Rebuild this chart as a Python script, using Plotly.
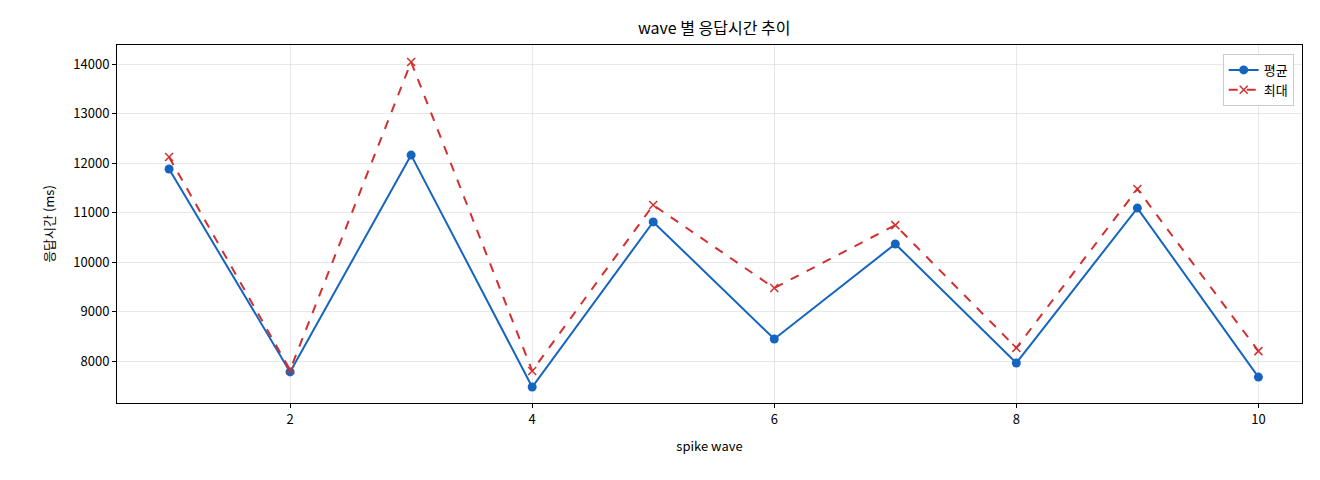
'''
wave 별 응답시간 추이
'''

import plotly.graph_objects as go

waves = [1, 2, 3, 4, 5, 6, 7, 8, 9, 10]
avg_ms = [11880, 7780, 12160, 7475, 10810, 8445, 10365, 7960, 11090, 7675]
max_ms = [12120, 7820, 14040, 7800, 11150, 9475, 10745, 8265, 11475, 8200]

fig = go.Figure()

fig.add_trace(go.Scatter(x=waves, y=avg_ms, mode='lines+markers', name='평균',
                         line=dict(color='#1565c0', width=2),
                         marker=dict(symbol='circle', size=9, color='#1565c0')))
fig.add_trace(go.Scatter(x=waves, y=max_ms, mode='lines+markers', name='최대',
                         line=dict(color='#d32f2f', width=2, dash='dash'),
                         marker=dict(symbol='x-thin', size=8, color='#d32f2f',
                                     line=dict(color='#d32f2f', width=1.5))))

axis_common = dict(showline=True, linecolor='black', linewidth=1, mirror=True,
                   ticks='outside', ticklen=4, tickcolor='black',
                   showgrid=True, gridcolor='rgba(0,0,0,0.09)', zeroline=False,
                   tickfont=dict(size=13, color='black'))

fig.update_layout(
    width=1320, height=480,
    margin=dict(l=109, r=26, t=37, b=85),
    paper_bgcolor='white', plot_bgcolor='white',
    font=dict(family='Noto Sans CJK KR', size=13, color='black'),
    title=dict(text='wave 별 응답시간 추이', x=0.535, xanchor='center', y=0.97,
               font=dict(size=16)),
    xaxis=dict(title=dict(text='spike wave', font=dict(size=13)), range=[0.57, 10.36],
               tickvals=[2, 4, 6, 8, 10], **axis_common),
    yaxis=dict(title=dict(text='응답시간 (ms)', font=dict(size=13)), range=[7152, 14384],
               tickvals=[8000, 9000, 10000, 11000, 12000, 13000, 14000],
               tickformat='d', **axis_common),
    legend=dict(x=0.993, y=0.975, xanchor='right', yanchor='top',
                bgcolor='white', bordercolor='#cccccc', borderwidth=1,
                font=dict(size=13)),
    showlegend=True,
)

fig.write_html('out.html')
